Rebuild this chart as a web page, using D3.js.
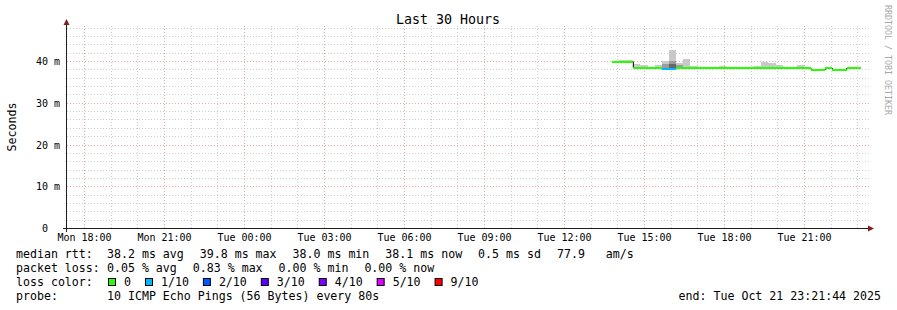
<!DOCTYPE html>
<html><head><meta charset="utf-8">
<script src="https://cdn.jsdelivr.net/npm/d3@7"></script>
<style>
html,body{margin:0;padding:0;background:#fff;}
svg{display:block;font-family:"DejaVu Sans Mono",monospace;}
text{white-space:pre;}
</style></head><body>
<svg id="c" width="897" height="310"></svg>
<script>
// ---------- data ----------
const title = "Last 30 Hours";
const yAxisLabel = "Seconds";
const watermark = "RRDTOOL / TOBI OETIKER";
const rangeStart = "2025-10-20T17:21:44Z";
const rangeEnd = "2025-10-21T23:21:44Z";
const yMaxMs = 48.4;
const yTickValues = [0, 10, 20, 30, 40];
const yTickLabels = ["0  ", "10 m", "20 m", "30 m", "40 m"];
const stepDay = "2025-10-21";
const stepStarts = ["13:48","14:04","14:20","14:36","14:52","15:08","15:24","15:40","15:56","16:12",
  "16:28","16:44","17:00","17:16","17:32","17:48","18:04","18:20","18:36","18:52",
  "19:08","19:24","19:40","19:56","20:12","20:28","20:44","21:00","21:16","21:32",
  "21:48","22:04","22:20","22:36","22:52"];
const lastStepEnd = "23:08";
const medianMs = [39.85,39.85,39.85,38.37,38.25,38.25,38.25,38.15,38.15,38.25,
  38.25,38.25,38.25,38.25,38.25,38.25,38.25,38.25,38.25,38.25,
  38.25,38.25,38.25,38.25,38.25,38.25,38.25,38.25,37.95,37.95,
  38.25,37.95,37.95,38.25,38.25];
const smokeLowMs = [39.7,39.7,39.7,38.2,38.1,38.1,38.1,38.0,38.0,38.1,
  38.1,38.1,38.1,38.1,38.1,38.1,38.1,38.1,38.1,38.1,
  38.1,38.1,38.1,38.1,38.1,38.1,38.1,38.1,37.8,37.8,
  38.1,37.8,37.8,38.1,38.1];
const smokeHighMs = [39.9,40.2,40.2,39.4,39.0,38.5,39.0,40.0,42.6,39.5,
  40.4,38.9,38.65,38.65,38.65,38.9,38.65,38.65,38.65,38.3,
  38.9,39.85,39.6,39.1,38.3,38.3,39.1,38.3,38.0,38.0,
  38.3,38.0,38.0,38.3,38.3];
const smokeMidHighMs = [null,null,null,null,null,null,null,39.3,40.1,39.0,
  null,null,null,null,null,null,null,null,null,null,
  null,null,null,null,null,null,null,null,null,null,
  null,null,null,null,null];
const smokeDarkHighMs = [null,null,null,null,null,null,null,null,39.3,null,
  null,null,null,null,null,null,null,null,null,null,
  null,null,null,null,null,null,null,null,null,null,
  null,null,null,null,null];
const lossLevel = [0,0,0,0,0,0,0,1,1,0, 0,0,0,0,0,0,0,0,0,0, 0,0,0,0,0,0,0,0,0,0, 0,0,0,0,0];
const lossLabels = ["0","1/10","2/10","3/10","4/10","5/10","9/10"];
const lossColors = ["#26ff00","#00b8ff","#0059ff","#5e00ff","#7e00ff","#dd00ff","#ff0000"];
const rttLabel = "median rtt:";
const rttStats = ["38.2 ms avg","39.8 ms max","38.0 ms min","38.1 ms now","0.5 ms sd","77.9   am/s"];
const lossLabel = "packet loss:";
const lossStats = ["0.05 % avg","0.83 % max","0.00 % min","0.00 % now"];
const lossColorLabel = "loss color:";
const probeLabel = "probe:";
const probeText = "10 ICMP Echo Pings (56 Bytes) every 80s";
const endText = "end: Tue Oct 21 23:21:44 2025";

// ---------- layout ----------
const L = 67, R = 867, T = 26, B = 228;
const svg = d3.select("#c");
const x = d3.scaleUtc().domain([new Date(rangeStart), new Date(rangeEnd)]).range([L, R]);
const y = d3.scaleLinear().domain([0, yMaxMs]).range([B, T]);
const tParse = s => new Date(stepDay + "T" + s + ":00Z");
const steps = stepStarts.map((s, i) => ({
  t0: tParse(s),
  t1: tParse(i + 1 < stepStarts.length ? stepStarts[i + 1] : lastStepEnd),
  med: medianMs[i], lo: smokeLowMs[i], hi: smokeHighMs[i],
  mid: smokeMidHighMs[i], dark: smokeDarkHighMs[i], loss: lossLevel[i]
}));

const minorCol = "#cfcfcf";
const majorCol = "#f0a5a5";

// grid
const g = svg.append("g").attr("shape-rendering", "crispEdges");
const hourTicks = x.ticks(d3.utcHour.every(1));
hourTicks.forEach(t => {
  const major = t.getUTCHours() % 3 === 0;
  const px = Math.round(x(t)) + 0.5;
  g.append("line").attr("x1", px).attr("x2", px).attr("y1", T).attr("y2", B)
    .attr("stroke", major ? majorCol : minorCol).attr("stroke-dasharray", "1,2");
});
d3.range(2, yMaxMs, 2).forEach(v => {
  const major = v % 10 === 0;
  const py = Math.round(y(v)) + 0.5;
  g.append("line").attr("x1", L).attr("x2", R + 2).attr("y1", py).attr("y2", py)
    .attr("stroke", major ? majorCol : minorCol).attr("stroke-dasharray", "1,2");
});

// smoke
const sm = svg.append("g").attr("shape-rendering", "crispEdges");
sm.selectAll(".s1").data(steps).join("rect")
  .attr("x", d => x(d.t0)).attr("width", d => x(d.t1) - x(d.t0))
  .attr("y", d => y(d.hi)).attr("height", d => y(d.lo) - y(d.hi)).attr("fill", "#c9c9c9");
sm.selectAll(".s2").data(steps.filter(d => d.mid != null)).join("rect")
  .attr("x", d => x(d.t0)).attr("width", d => x(d.t1) - x(d.t0))
  .attr("y", d => y(d.mid)).attr("height", d => y(d.lo) - y(d.mid)).attr("fill", "#9c9c9c");
sm.selectAll(".s3").data(steps.filter(d => d.dark != null)).join("rect")
  .attr("x", d => x(d.t0)).attr("width", d => x(d.t1) - x(d.t0))
  .attr("y", d => y(d.dark)).attr("height", d => y(d.lo) - y(d.dark)).attr("fill", "#676767");

// median black step line
const linePts = steps.map(d => [x(d.t0), y(d.med)]);
linePts.push([x(steps[steps.length - 1].t1), y(steps[steps.length - 1].med)]);
svg.append("path").attr("d", d3.line().curve(d3.curveStepAfter)(linePts))
  .attr("fill", "none").attr("stroke", "#000").attr("stroke-width", 1);
// median coloured by loss
svg.append("g").attr("shape-rendering", "crispEdges").selectAll("rect").data(steps).join("rect")
  .attr("x", d => x(d.t0)).attr("width", d => x(d.t1) - x(d.t0))
  .attr("y", d => y(d.med) - 1).attr("height", 2)
  .attr("fill", d => lossColors[d.loss]);

// axes
const ax = svg.append("g");
ax.append("line").attr("x1", 63).attr("x2", 870).attr("y1", B + 0.5).attr("y2", B + 0.5).attr("stroke", "#1f1f1f");
ax.append("line").attr("x1", L - 0.5).attr("x2", L - 0.5).attr("y1", B + 4).attr("y2", 24).attr("stroke", "#1f1f1f");
ax.append("path").attr("d", `M${L - 3.5},25 L${L + 2.5},25 L${L - 0.5},19 Z`).attr("fill", "#801f1f");
ax.append("path").attr("d", `M868,${B - 2.5} L868,${B + 3.5} L874,${B + 0.5} Z`).attr("fill", "#801f1f");

// x tick labels
const xAxis = d3.axisBottom(x).ticks(d3.utcHour.every(3)).tickFormat(d3.utcFormat("%a %H:%M")).tickSize(0);
const xg = svg.append("g").attr("transform", `translate(0,${B})`).call(xAxis);
xg.select(".domain").remove();
xg.selectAll("text").attr("font-family", "DejaVu Sans Mono").attr("font-size", "10px")
  .attr("fill", "#000").attr("dy", null).attr("y", 13);

// y tick labels
const yAxis = d3.axisLeft(y).tickValues(yTickValues).tickFormat((d, i) => yTickLabels[i]).tickSize(0);
const yg = svg.append("g").attr("transform", `translate(60,0)`).call(yAxis);
yg.select(".domain").remove();
yg.selectAll("text").attr("font-family", "DejaVu Sans Mono").attr("font-size", "10px")
  .attr("fill", "#000").attr("x", 0).attr("dy", "0.36em");

// title, labels
svg.append("text").attr("x", 448).attr("y", 24).attr("text-anchor", "middle")
  .attr("font-size", "13.3px").text(title);
svg.append("text").attr("transform", "translate(16,127) rotate(-90)").attr("text-anchor", "middle")
  .attr("font-size", "11.6px").text(yAxisLabel);
svg.append("text").attr("transform", "translate(884.5,5) rotate(90)")
  .attr("font-size", "8.3px").attr("fill", "#a8a8a8").text(watermark);

// legend
const lg = svg.append("g").attr("font-size", "11.6px");
const cw = 6.98, gap = 16;
function row(label, items, yb) {
  lg.append("text").attr("x", 16).attr("y", yb).text(label);
  let cx = 107;
  items.forEach(s => {
    lg.append("text").attr("x", cx).attr("y", yb).text(s);
    cx += s.length * cw + gap;
  });
}
row(rttLabel, rttStats, 258);
row(lossLabel, lossStats, 272);
lg.append("text").attr("x", 16).attr("y", 286).text(lossColorLabel);
let cx = 108;
lossLabels.forEach((s, i) => {
  lg.append("rect").attr("x", cx + 0.5).attr("y", 278.5).attr("width", 7).attr("height", 7)
    .attr("fill", lossColors[i]).attr("stroke", "#000").attr("stroke-width", 1);
  lg.append("text").attr("x", cx + 16).attr("y", 286).text(s);
  cx = cx + 16 + s.length * cw + 14;
});
lg.append("text").attr("x", 16).attr("y", 300).text(probeLabel);
lg.append("text").attr("x", 107).attr("y", 300).text(probeText);
lg.append("text").attr("x", 881).attr("y", 300).attr("text-anchor", "end").text(endText);
</script>
</body></html>
